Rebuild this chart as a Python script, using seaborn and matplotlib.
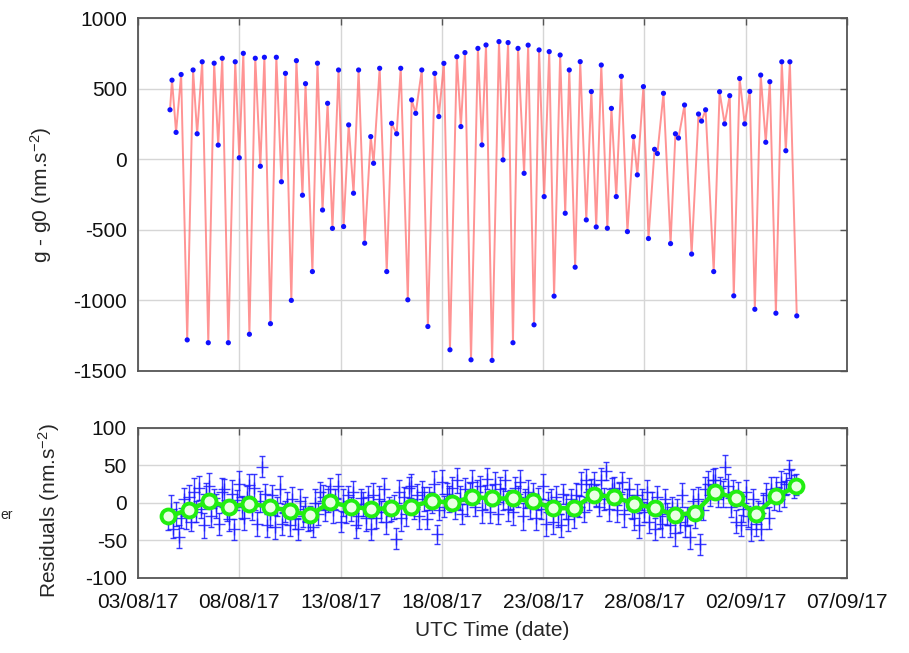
import numpy as np
import pandas as pd
import matplotlib
matplotlib.use("Agg")
import matplotlib.pyplot as plt
import matplotlib.dates as mdates
import seaborn as sns

# Gravity signal g - g0 (nm/s^2): turning points of the tidal record,
# time given in days after 2017-08-03 00:00 UTC
g_days = [1.58, 1.68, 1.88, 2.13, 2.43, 2.72, 2.92, 3.17, 3.47, 3.76, 3.96,
          4.16, 4.46, 4.80, 5.00, 5.20, 5.50, 5.79, 6.04, 6.24, 6.54,
          6.83, 7.08, 7.28, 7.57, 7.82, 8.12, 8.27, 8.61, 8.86, 9.11,
          9.36, 9.60, 9.90, 10.15, 10.40, 10.64, 10.89, 11.19, 11.49, 11.63,
          11.93, 12.28, 12.52, 12.77, 12.97, 13.32, 13.51, 13.71, 14.01, 14.31,
          14.65, 14.85, 15.10, 15.40, 15.74, 15.94, 16.14, 16.44, 16.78, 16.98,
          17.18, 17.48, 17.82, 18.02, 18.27, 18.51, 18.76, 19.06, 19.26, 19.55,
          19.80, 20.05, 20.30, 20.54, 20.84, 21.09, 21.29, 21.58, 21.83, 22.13,
          22.38, 22.62, 22.87, 23.17, 23.37, 23.61, 23.86, 24.16, 24.46, 24.65,
          24.95, 25.20, 25.50, 25.64, 25.94, 26.29, 26.53, 26.68, 26.98, 27.33,
          27.67, 27.82, 28.02, 28.42, 28.71, 28.96, 29.21, 29.41, 29.70, 29.95,
          30.20, 30.45, 30.74, 30.99, 31.19, 31.49, 31.78, 31.98, 32.18, 32.52]
g_vals = [350, 560, 190, 600, -1280, 632, 180, 690, -1300, 680, 100,
          715, -1300, 690, 10, 750, -1240, 715, -50, 722, -1165,
          722, -160, 608, -1000, 698, -255, 535, -796, 680, -360,
          396, -490, 632, -477, 243, -241, 632, -595, 160, -29,
          644, -796, 254, 180, 644, -996, 420, 325, 632, -1185,
          608, 302, 679, -1350, 726, 231, 755, -1421, 785, 101,
          809, -1425, 833, -5, 826, -1300, 785, -100, 808, -1173,
          774, -265, 762, -970, 738, -383, 632, -765, 691, -430,
          479, -480, 667, -489, 360, -265, 587, -513, 160, -111,
          514, -562, 70, 40, 467, -598, 180, 150, 384, -672,
          320, 270, 350, -796, 478, 250, 450, -968, 572, 250,
          480, -1063, 596, 120, 549, -1091, 690, 60, 690, -1110]

# Residuals (nm/s^2), 3-hourly from 2017-08-04 12:00 UTC, with their uncertainties
res_vals = [-22, -8, -35, -15, -45, -20, 5, -18,
            8, -25, 15, -12, 20, -8, -30, 12,
            22, -18, 6, -4, -28, 14, 18, -12,
            -22, 12, -35, 4, 25, -6, -20, 8,
            24, -10, 20, -28, 2, 48, 12, -30,
            -15, 10, -32, -5, 18, -28, -12, -2,
            -30, 5, -22, -35, 2, -18, -8, -25,
            -20, -32, 0, -15, 15, 8, -10, 5,
            18, -10, 5, 22, -25, 0, -12, 10,
            -8, 15, -30, -18, 6, -2, -20, 8,
            -35, 10, -20, 5, -12, 18, -25, -5,
            -10, -5, -48, 15, -20, 8, -15, 20,
            22, -8, 10, -18, 15, 5, -22, 6,
            0, 25, -42, -10, 28, -5, 12, 5,
            20, -8, 30, 6, -15, 18, -2, 12,
            28, -5, 15, 22, -10, 8, 32, -12,
            10, 25, -15, 18, 5, 30, -8, 4,
            -12, 20, 8, 28, -18, 6, 15, -5,
            12, -20, 5, -8, 22, -28, 0, 4,
            -25, 8, -15, -30, 12, -5, -22, 5,
            -18, 10, -5, 25, -12, 30, 8, 18,
            25, 10, -5, 30, 5, 42, -8, 18,
            20, -10, 12, 28, -15, 5, 18, -5,
            -20, 10, -30, 5, -12, 15, -25, 0,
            -35, 8, -18, -28, 5, -15, -30, -5,
            -40, -10, -25, 10, -30, -18, -45, 2,
            -20, 5, -55, -10, 18, 25, 10, 30,
            30, 8, 20, 12, 48, 22, -5, 15,
            -25, 12, -30, -8, 15, -18, -35, 5,
            -28, -12, -35, 0, 10, -20, 18, 5,
            20, 5, 28, 12, 25, 45, 30, 22,
            25]
res_err = [14, 18, 12, 16, 15, 13, 15, 17,
           16, 13, 18, 14, 16, 12, 17, 15,
           18, 14, 13, 16, 15, 19, 14, 12,
           16, 18, 14, 13, 17, 15, 16, 14,
           15, 13, 18, 16, 14, 14, 13, 16,
           17, 14, 16, 13, 18, 15, 14, 16,
           14, 16, 13, 15, 17, 14, 16, 13,
           16, 14, 18, 15, 13, 16, 14, 17,
           15, 17, 13, 16, 14, 18, 15, 13,
           16, 14, 17, 15, 13, 16, 18, 14,
           15, 16, 13, 17, 14, 15, 16, 13,
           14, 16, 14, 15, 17, 13, 16, 14,
           16, 13, 15, 17, 14, 16, 13, 15,
           14, 17, 13, 13, 16, 14, 15, 17,
           15, 14, 17, 16, 13, 15, 16, 14,
           16, 13, 15, 14, 17, 16, 14, 15,
           14, 16, 13, 17, 15, 14, 16, 13,
           17, 15, 14, 16, 18, 13, 15, 16,
           14, 16, 15, 13, 17, 16, 14, 15,
           16, 14, 17, 15, 13, 16, 15, 14,
           15, 17, 14, 16, 13, 15, 17, 14,
           16, 14, 13, 17, 15, 12, 16, 15,
           14, 16, 15, 13, 17, 14, 15, 16,
           16, 15, 17, 14, 13, 16, 15, 14,
           15, 14, 16, 17, 14, 15, 16, 13,
           17, 15, 14, 16, 15, 13, 16, 16,
           14, 16, 14, 13, 16, 18, 14, 15,
           16, 14, 15, 17, 16, 16, 14, 15,
           15, 16, 14, 17, 15, 14, 16, 13,
           16, 14, 15, 13, 17, 15, 16, 14,
           15, 16, 14, 17, 15, 12, 14, 15,
           14]

# Daily mean residuals at 12:00 UTC, 2017-08-04 .. 2017-09-04
daily_means = [-18, -9, 2, -5, -1, -5, -11, -16, 1, -5, -8, -7, -5, 3, 0, 8,
               6, 6, 2, -7, -7, 11, 8, -1, -7, -16, -13, 15, 6, -15, 9, 22]

tick_dates = ["2017-08-03", "2017-08-08", "2017-08-13", "2017-08-18",
              "2017-08-23", "2017-08-28", "2017-09-02", "2017-09-07"]

# ---------------------------------------------------------------------------
t0 = pd.Timestamp("2017-08-03")
grav = pd.DataFrame({"time": t0 + pd.to_timedelta(g_days, unit="D"),
                     "g": g_vals})
res = pd.DataFrame({"time": pd.date_range("2017-08-04 12:00", periods=len(res_vals), freq="3h"),
                    "r": res_vals, "err": res_err})
daily = pd.DataFrame({"time": pd.date_range("2017-08-04 12:00", periods=len(daily_means), freq="D"),
                      "r": daily_means})

sns.set_theme(style="white")
plt.rcParams["font.family"] = ["Liberation Sans", "DejaVu Sans"]
plt.rcParams["mathtext.fontset"] = "custom"
plt.rcParams["mathtext.rm"] = "Liberation Sans"
plt.rcParams["mathtext.it"] = "Liberation Sans:italic"
plt.rcParams["axes.unicode_minus"] = False

FS = 15

fig = plt.figure(figsize=(9.09, 6.53), dpi=100)
ax1 = fig.add_axes([0.1518, 0.4319, 0.7800, 0.5405])
ax2 = fig.add_axes([0.1518, 0.1149, 0.7800, 0.2297])

xticks = pd.to_datetime(tick_dates)
xmin, xmax = xticks[0], xticks[-1]

for ax in (ax1, ax2):
    ax.set_xlim(xmin, xmax)
    ax.xaxis.set_major_locator(matplotlib.ticker.FixedLocator(mdates.date2num(xticks)))
    ax.xaxis.set_major_formatter(mdates.DateFormatter("%d/%m/%y"))
    ax.grid(True, color="#d6d6d6", lw=1.0)
    ax.set_axisbelow(True)
    ax.tick_params(direction="in", length=5, width=1, colors="#555555",
                   labelcolor="#111111", labelsize=FS, top=True, right=True)
    ax.tick_params(axis="y", pad=8)
    ax.tick_params(axis="x", pad=11)
    for s in ax.spines.values():
        s.set_color("#555555")
        s.set_linewidth(1.3)

# --- upper panel: gravity signal
sns.lineplot(data=grav, x="time", y="g", ax=ax1, color="#ff7070", lw=1.4,
             alpha=0.75, sort=False, estimator=None)
sns.scatterplot(data=grav, x="time", y="g", ax=ax1, color="#1010ff", s=14,
                edgecolor="none", zorder=3)
ax1.set_ylim(-1500, 1000)
ax1.set_yticks([-1500, -1000, -500, 0, 500, 1000])
ax1.tick_params(labelbottom=False)
ax1.set_xlabel("")
ax1.set_ylabel(r"g - g0 (nm.s$^{-2}$)", fontsize=FS)
ax1.yaxis.set_label_coords(-0.118, 0.5)

# --- lower panel: residuals and their daily means
ax2.errorbar(res["time"], res["r"], yerr=res["err"], fmt="+", color="#1a1aff",
             ms=8, mew=1.0, elinewidth=1.0, capsize=2.5, capthick=1.0, alpha=0.85, zorder=2)
sns.lineplot(data=daily, x="time", y="r", ax=ax2, color="#22ee11", lw=3.2,
             marker="o", markersize=10, markerfacecolor="#eaffe4",
             markeredgecolor="#22ee11", markeredgewidth=2.8, zorder=4)
ax2.set_ylim(-100, 100)
ax2.set_yticks([-100, -50, 0, 50, 100])
ax2.set_xlabel("UTC Time (date)", fontsize=FS, labelpad=6)
ax2.set_ylabel(r"Residuals (nm.s$^{-2}$)", fontsize=FS)
ax2.yaxis.set_label_coords(-0.107, 0.45)

fig.text(0.0, 0.212, "er", fontsize=10, ha="left", va="center")

fig.savefig("out.png", dpi=100)
